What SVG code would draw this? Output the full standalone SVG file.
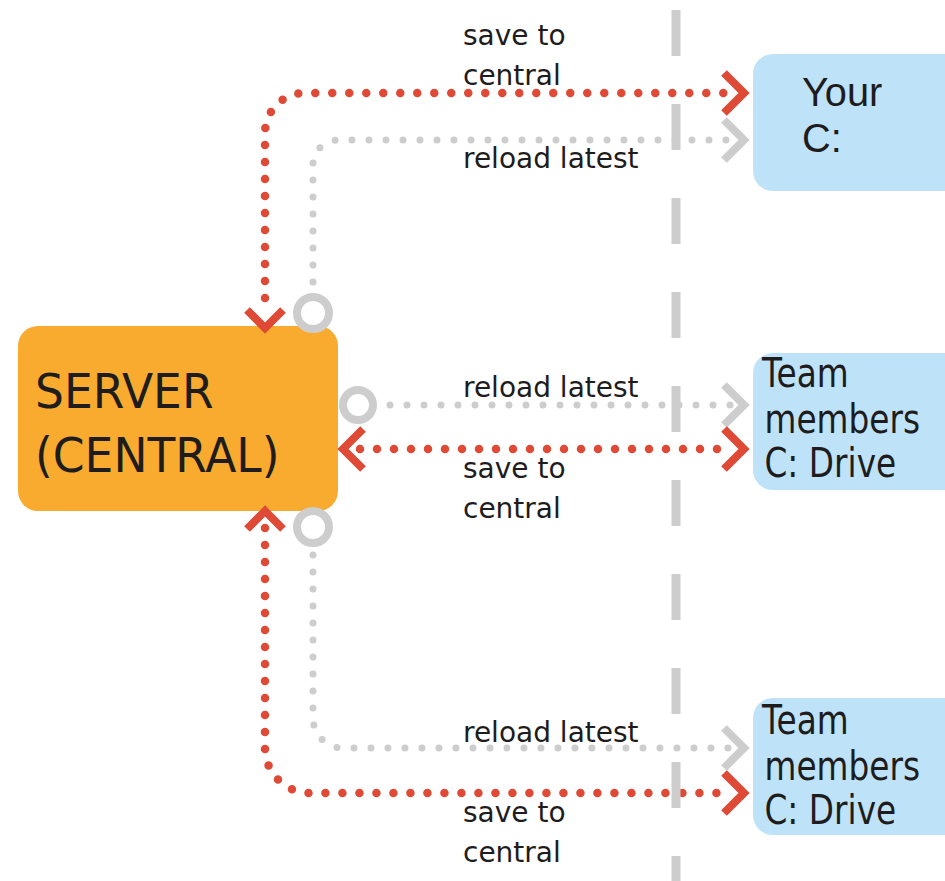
<svg xmlns="http://www.w3.org/2000/svg" width="945" height="881" viewBox="0 0 945 881">
<defs>
<style>
.red{fill:none;stroke:#DE4A36;stroke-width:8.5;stroke-linecap:round;stroke-dasharray:0 17}
.gray{fill:none;stroke:#CDCDCD;stroke-width:7;stroke-linecap:round;stroke-dasharray:0 17}
.chev-r{fill:none;stroke:#DE4A36;stroke-width:8;stroke-linejoin:miter}
.chev-g{fill:none;stroke:#CDCDCD;stroke-width:8;stroke-linejoin:miter}
.ring{fill:#fff;stroke:#CDCDCD;stroke-width:8}
.lbl{font-family:"DejaVu Sans",Verdana,sans-serif;font-size:28px;fill:#1E1C1D}
.big{font-family:"DejaVu Sans",Verdana,sans-serif;font-size:48px;fill:#1E1C1D}
.blue-t{font-family:"DejaVu Sans",Verdana,sans-serif;font-size:40px;fill:#1E1C1D}
.your-t{font-family:"Liberation Sans",Arial,sans-serif;font-size:41px;fill:#1E1C1D}
.server{fill:#F9AB2F}
.client{fill:#BEE3F8}
</style>
</defs>
<rect width="945" height="881" fill="#fff"/>

<g id="server">
<rect class="server" x="18" y="326" width="320" height="185" rx="20"/>
<g transform="translate(35,0) scale(0.95,1)">
<text class="big" x="0" y="408">SERVER</text>
<text class="big" x="0" y="472">(CENTRAL)</text>
</g>
</g>

<g id="your-c">
<rect class="client" x="753" y="54" width="230" height="137" rx="20"/>
<g transform="translate(802,0) scale(0.97,1)">
<text class="your-t" x="0" y="106">Your</text>
<text class="your-t" x="0" y="152">C:</text>
</g>
</g>

<g id="team-1">
<rect class="client" x="753" y="353" width="230" height="137" rx="20"/>
<g transform="translate(762,0) scale(0.82,1)">
<text class="blue-t" x="0" y="387">Team</text>
<text class="blue-t" x="3" y="433">members</text>
<text class="blue-t" x="3" y="477">C: Drive</text>
</g>
</g>

<g id="team-2">
<rect class="client" x="753" y="698" width="230" height="137" rx="20"/>
<g transform="translate(762,0) scale(0.82,1)">
<text class="blue-t" x="0" y="734">Team</text>
<text class="blue-t" x="3" y="780">members</text>
<text class="blue-t" x="3" y="824">C: Drive</text>
</g>
</g>

<g id="connectors">
<path class="red" d="M265,298 V133 A40,40 0 0 1 305,93 H731"/>
<polyline class="chev-r" points="247,310 265,328 283,310"/>
<polyline class="chev-r" points="724,73 744,93 724,113"/>
<path class="gray" d="M313,282 V165 A25,25 0 0 1 338,140 H731"/>
<circle class="ring" cx="313" cy="313" r="16"/>
<polyline class="chev-g" points="724,120 744,140 724,160"/>
<path class="gray" d="M390,405 H731"/>
<circle class="ring" cx="358" cy="405" r="15"/>
<polyline class="chev-g" points="724,385 744,405 724,425"/>
<path class="red" d="M360,449 H731"/>
<polyline class="chev-r" points="363,429 343,449 363,469"/>
<polyline class="chev-r" points="724,429 744,449 724,469"/>
<path class="gray" d="M313,555 V718 A30,30 0 0 0 343,748 H731"/>
<circle class="ring" cx="313" cy="527" r="16"/>
<polyline class="chev-g" points="724,728 744,748 724,768"/>
<path class="red" d="M265,528 V748 A45,45 0 0 0 310,793 H731"/>
<polyline class="chev-r" points="247,529 265,511 283,529"/>
<polyline class="chev-r" points="724,773 744,793 724,813"/>
</g>

<line id="divider" x1="676" y1="10" x2="676" y2="881" stroke="#CDCDCD" stroke-width="9" stroke-dasharray="46 48"/>

<g id="labels">
<text class="lbl" x="463" y="45">save to</text>
<text class="lbl" x="463" y="85">central</text>
<text class="lbl" x="463" y="168">reload latest</text>
<text class="lbl" x="463" y="397">reload latest</text>
<text class="lbl" x="463" y="478">save to</text>
<text class="lbl" x="463" y="518">central</text>
<text class="lbl" x="463" y="742">reload latest</text>
<text class="lbl" x="463" y="822">save to</text>
<text class="lbl" x="463" y="862">central</text>
</g>
</svg>
